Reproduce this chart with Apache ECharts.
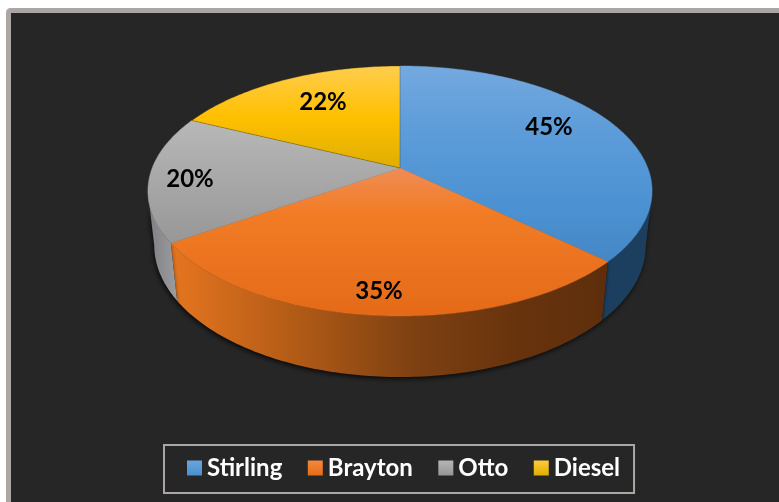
<!DOCTYPE html>
<html>
<head>
<meta charset="utf-8">
<style>
  html, body { margin: 0; padding: 0; background: #fff; }
  #chart { width: 779px; height: 502px; }
</style>
<script src="https://cdn.jsdelivr.net/npm/echarts@6/dist/echarts.min.js"></script>
</head>
<body>
<div id="chart"></div>
<script>
// Engine types and their printed percentages.
const categories = ['Stirling', 'Brayton', 'Otto', 'Diesel'];
const values = [45, 35, 20, 22];

// Slices are sized by their share of the sum of the values.
const total = values.reduce((a, b) => a + b, 0);
const starts = values.map((_, i) => values.slice(0, i).reduce((a, b) => a + b, 0));

// Perspective view of the disc: a unit circle (u, v) is projected onto the page.
const VIEW = { cx: 400, cy: 168, rx: 247.8, ry: 120.8, tilt: 0.184, sink: 0.025, drop: 55 };

// The wall faces the viewer only between the two silhouette angles of the rim.
const WALL_FROM = Math.acos(-VIEW.tilt);
const WALL_TO = Math.PI * 2 - WALL_FROM;

function projectTop(u, v) {
  const d = 1 - VIEW.tilt * v;
  return [VIEW.cx + VIEW.rx * u / d, VIEW.cy + VIEW.ry * v / d];
}
function projectBase(u, v) {
  const d = 1 - VIEW.tilt * v + VIEW.sink;
  return [VIEW.cx + VIEW.rx * u / d, VIEW.cy + (VIEW.ry * v + VIEW.drop) / d];
}
function rim(project, a0, a1) {
  const steps = Math.max(8, Math.ceil((a1 - a0) * 60));
  const pts = [];
  for (let i = 0; i <= steps; i++) {
    const a = a0 + (a1 - a0) * i / steps;
    pts.push(project(Math.sin(a), -Math.cos(a)));
  }
  return pts;
}

function stops(list) {
  return list.map(([offset, color]) => ({ offset, color }));
}
function pageGradient(x0, y0, x1, y1, list) {
  return { type: 'linear', x: x0, y: y0, x2: x1, y2: y1, global: true, colorStops: stops(list) };
}

// Lit top faces, shaded vertically across the page.
const topFills = [
  pageGradient(0, 66, 0, 262, [[0, '#74a9df'], [0.33, '#5d9cd9'], [0.7, '#4c92d2'], [1, '#4587c6']]),
  pageGradient(0, 168, 0, 316, [[0, '#ef8d55'], [0.3, '#f27c26'], [1, '#e46a18']]),
  pageGradient(0, 120, 0, 243, [[0, '#b8b8b8'], [1, '#979797']]),
  pageGradient(0, 66, 0, 168, [[0, '#ffcd4e'], [0.5, '#ffc000'], [1, '#dfae02']])
];
// Seam drawn around each top face; only the Diesel edge reads as a dark line.
const topEdges = [null, null, null, 'rgba(60,45,0,0.45)'];
// Outer walls, shaded from left to right.
const wallFills = [
  '#1d3f5f',
  pageGradient(172, 0, 607, 0, [[0, '#e5751f'], [0.25, '#b85e17'], [0.55, '#7f4112'], [0.8, '#67330d'], [1, '#5e2e0c']]),
  pageGradient(148, 0, 176, 0, [[0, '#7d7f82'], [1, '#9a9c9e']]),
  '#8a6a00'
];
const legendFills = [
  ['#6aa5de', '#4a8fcf'], ['#f5873f', '#e56c18'], ['#b5b5b5', '#959595'], ['#ffcb3c', '#e0ae00']
];
const labelSpots = [[549, 127], [379, 291], [190, 179], [323, 102]];

function renderSlice(index) {
  return function (params, api) {
    const a0 = api.value(1) / total * Math.PI * 2;
    const a1 = a0 + api.value(0) / total * Math.PI * 2;
    const wallStart = Math.max(a0, WALL_FROM);
    const wallEnd = Math.min(a1, WALL_TO);
    const spot = labelSpots[index];
    const children = [
      {
        type: 'polygon',
        z2: 2 + (topEdges[index] ? 1 : 0),
        shape: { points: [[VIEW.cx, VIEW.cy]].concat(rim(projectTop, a0, a1)) },
        style: {
          fill: topFills[index],
          stroke: topEdges[index] || topFills[index],
          lineWidth: topEdges[index] ? 0.7 : 0.4
        }
      },
      {
        type: 'text',
        z2: 4,
        style: {
          x: spot[0],
          y: spot[1],
          text: api.value(0) + '%',
          fill: '#000',
          font: 'bold 24px Lato',
          align: 'center',
          verticalAlign: 'middle'
        }
      }
    ];
    if (wallEnd > wallStart) {
      children.push({
        type: 'polygon',
        z2: 1,
        shape: {
          points: rim(projectTop, wallStart, wallEnd)
            .concat(rim(projectBase, wallStart, wallEnd).reverse())
        },
        style: {
          fill: wallFills[index],
          shadowColor: 'rgba(0,0,0,0.75)',
          shadowBlur: 5,
          shadowOffsetX: -1,
          shadowOffsetY: 2
        }
      });
    }
    return { type: 'group', children };
  };
}

const chart = echarts.init(document.getElementById('chart'), null, { renderer: 'canvas' });
chart.setOption({
  animation: false,
  backgroundColor: '#fff',
  graphic: [
    {
      type: 'rect',
      z: -10,
      silent: true,
      shape: { x: 8.5, y: 10.5, width: 800, height: 520, r: 2 },
      style: { fill: '#262626', stroke: '#aba6a4', lineWidth: 5 }
    }
  ],
  legend: {
    left: 164,
    top: 445,
    orient: 'horizontal',
    padding: [11, 14, 13, 23],
    itemWidth: 15,
    itemHeight: 15,
    itemGap: 25.5,
    icon: 'rect',
    backgroundColor: '#262626',
    borderColor: '#aba6a4',
    borderWidth: 2,
    borderRadius: 0,
    selectedMode: false,
    textStyle: { color: '#fff', fontFamily: 'Lato', fontWeight: 'bold', fontSize: 24 },
    data: categories.map((name, i) => ({
      name,
      itemStyle: {
        color: new echarts.graphic.LinearGradient(0, 0, 0, 1, [
          { offset: 0, color: legendFills[i][0] },
          { offset: 1, color: legendFills[i][1] }
        ])
      }
    }))
  },
  series: categories.map((name, i) => ({
    type: 'custom',
    name,
    coordinateSystem: 'none',
    silent: true,
    renderItem: renderSlice(i),
    data: [[values[i], starts[i]]]
  }))
});
</script>
</body>
</html>
